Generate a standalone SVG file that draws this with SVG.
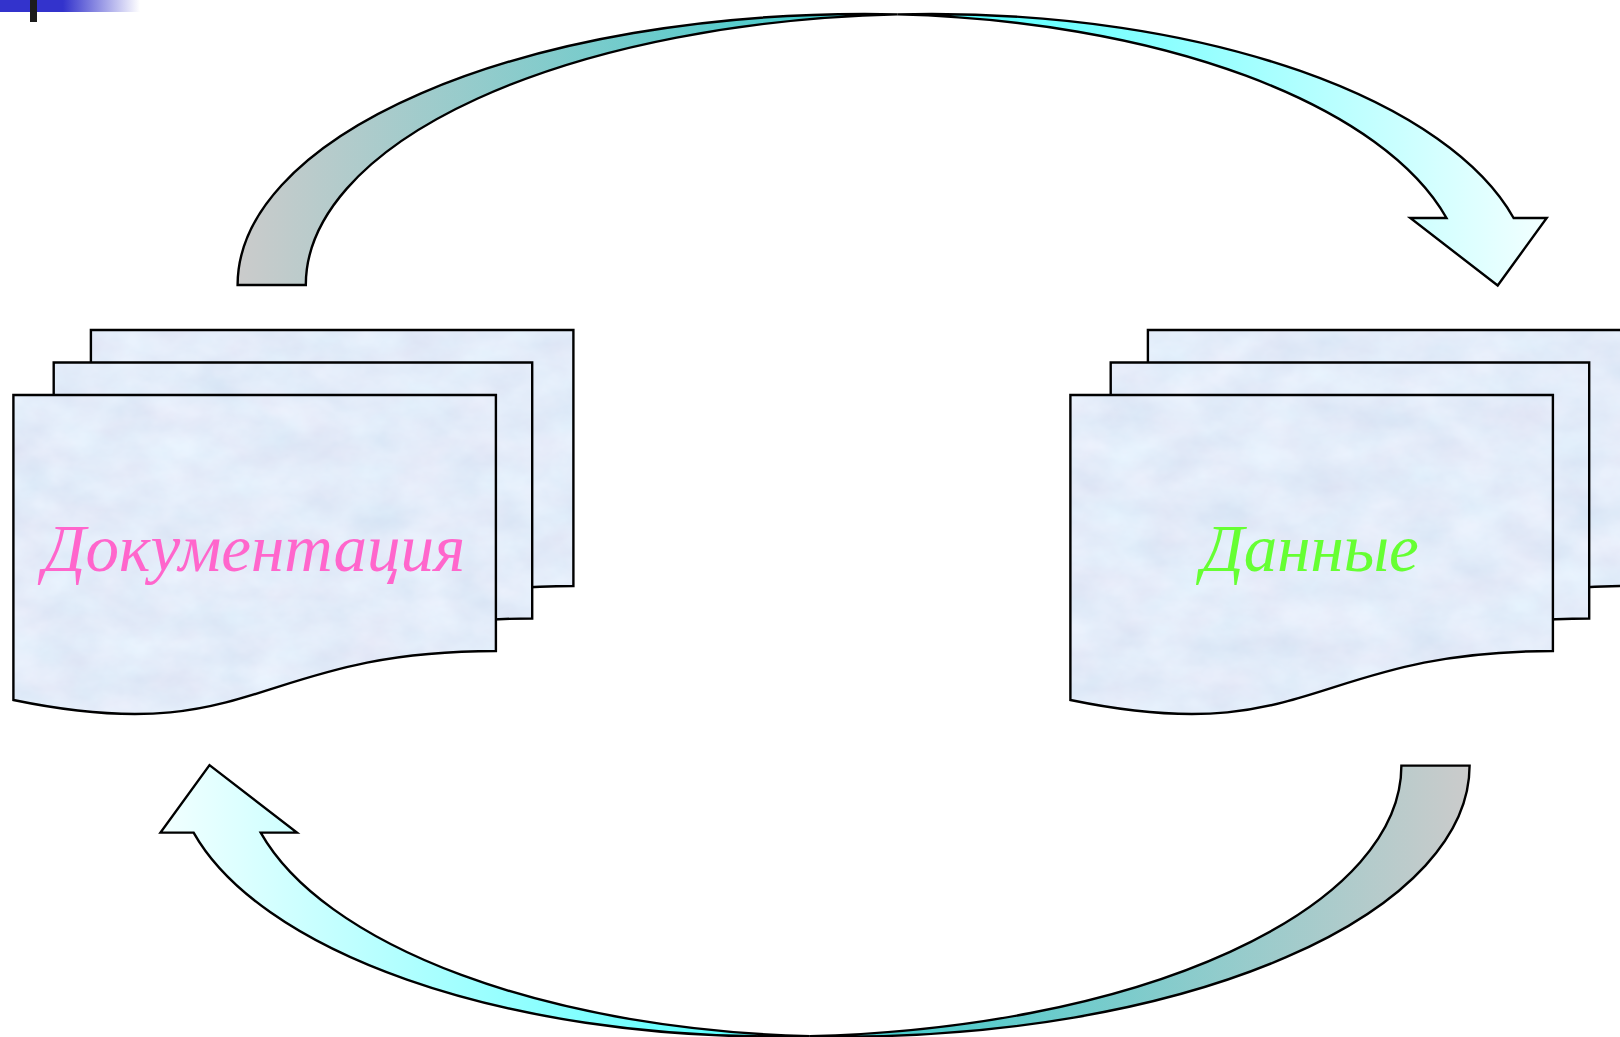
<svg xmlns="http://www.w3.org/2000/svg" xmlns:xlink="http://www.w3.org/1999/xlink" width="1620" height="1037" viewBox="0 0 1620 1037">
  <style>
    .doc { fill: url(#paperTex); stroke: #000; stroke-width: 2.4; stroke-linejoin: miter; }
    .band { stroke: #000; stroke-width: 2.4; stroke-linejoin: miter; }
    .label { font-family: "Liberation Serif", "Times New Roman", serif; font-style: italic; font-size: 67px; text-anchor: middle; }
  </style>
  <defs>
    <!-- top-left title bar fade -->
    <linearGradient id="barFade" x1="0" y1="0" x2="1" y2="0">
      <stop offset="0" stop-color="#3333cc"/>
      <stop offset="0.45" stop-color="#3333cc"/>
      <stop offset="1" stop-color="#3333cc" stop-opacity="0"/>
    </linearGradient>

    <!-- back (left) half of the curved arrow -->
    <linearGradient id="backShade" gradientUnits="userSpaceOnUse" x1="237" y1="0" x2="897" y2="0">
      <stop offset="0" stop-color="#cbcbcb"/>
      <stop offset="1" stop-color="#33cccc"/>
    </linearGradient>
    <!-- front (right) half of the curved arrow -->
    <linearGradient id="frontShade" gradientUnits="userSpaceOnUse" x1="897" y1="0" x2="1547" y2="0">
      <stop offset="0" stop-color="#44ffff"/>
      <stop offset="1" stop-color="#f2ffff"/>
    </linearGradient>

    <!-- mottled paper fill for the document sheets -->
    <filter id="mottle" filterUnits="userSpaceOnUse" x="0" y="0" width="1620" height="1037" color-interpolation-filters="sRGB">
      <feTurbulence type="fractalNoise" baseFrequency="0.02 0.03" numOctaves="4" seed="7"/>
      <feColorMatrix type="matrix" values="0.08 0.05 0 0 0.825  0.08 0 0 0 0.885  0.05 0 0 0 0.952  0 0 0 0 1"/>
    </filter>
    <pattern id="paperTex" patternUnits="userSpaceOnUse" x="0" y="0" width="1620" height="1037">
      <rect width="1620" height="1037" fill="#e0e9f7"/>
      <rect width="1620" height="1037" filter="url(#mottle)"/>
    </pattern>

    <!-- curved arrow: back band, then front band with head -->
    <g id="curvedArrow">
      <path class="band" fill="url(#backShade)"
            d="M237.6,285 A626.4,271 0 0 1 864,14 A601,271 0 0 1 897.4,14.4 A626.4,271 0 0 0 305.8,285 Z"/>
      <path class="band" fill="url(#frontShade)"
            d="M897.4,14.4 A626.4,271 0 0 1 932.2,14 A600,271 0 0 1 1513.6,218 L1546.7,218 L1497.7,285.5 L1410.3,218 L1446.5,218 A601,271 0 0 0 897.4,14.4 Z"/>
    </g>
  </defs>

  <rect width="1620" height="1037" fill="#ffffff"/>

  <!-- title bar accent -->
  <g id="title-accent">
    <rect x="0" y="0" width="140" height="12" fill="url(#barFade)"/>
    <rect x="30" y="0" width="7" height="22" fill="#1c1c1c"/>
  </g>

  <!-- cycle arrows -->
  <g id="connectors">
    <use id="arrow-docs-to-data" href="#curvedArrow" xlink:href="#curvedArrow"/>
    <use id="arrow-data-to-docs" href="#curvedArrow" xlink:href="#curvedArrow" transform="rotate(180 853.6 525.3)"/>
  </g>

  <!-- documentation stack -->
  <g id="node-documentation">
    <path class="doc" d="M90.9,330 H573.4 V586 C332,586 332,685 90.9,635 Z"/>
    <path class="doc" d="M53.7,362.5 H532.2 V618.5 C293,618.5 293,717.5 53.7,667.5 Z"/>
    <path class="doc" d="M13.4,395 H495.9 V651 C254.6,651 254.6,750 13.4,700 Z"/>
    <text class="label" x="254" y="571" fill="#ff66cc">Документация</text>
  </g>

  <!-- data stack -->
  <g id="node-data">
    <path class="doc" d="M1147.9,330 H1630.4 V586 C1389,586 1389,685 1147.9,635 Z"/>
    <path class="doc" d="M1110.7,362.5 H1589.2 V618.5 C1350,618.5 1350,717.5 1110.7,667.5 Z"/>
    <path class="doc" d="M1070.4,395 H1552.9 V651 C1311.6,651 1311.6,750 1070.4,700 Z"/>
    <text class="label" x="1310" y="571" fill="#66ff33">Данные</text>
  </g>
</svg>
